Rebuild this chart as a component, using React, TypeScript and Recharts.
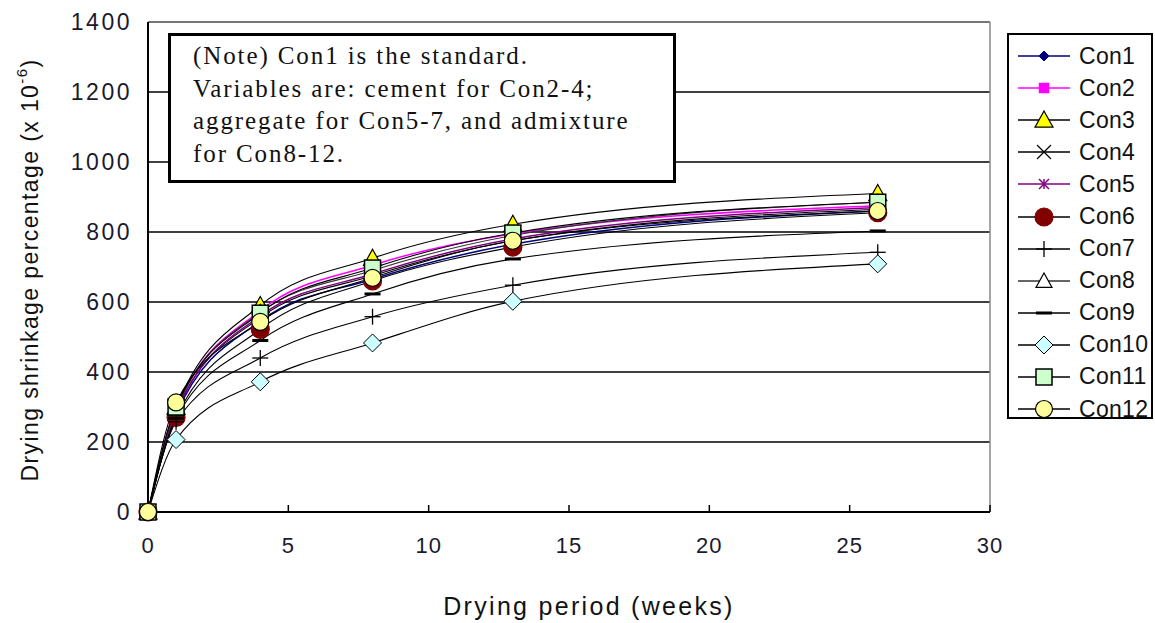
import React from 'react';
import {
  LineChart,
  Line,
  XAxis,
  YAxis,
  CartesianGrid,
  ReferenceLine,
} from 'recharts';

const weeks = [0, 1, 4, 8, 13, 26];

const con1 = [0, 280, 545, 665, 765, 860];
const con2 = [0, 295, 575, 705, 795, 875];
const con3 = [0, 300, 590, 725, 822, 910];
const con4 = [0, 290, 555, 675, 775, 865];
const con5 = [0, 285, 560, 680, 780, 870];
const con6 = [0, 270, 522, 660, 757, 855];
const con7 = [0, 258, 440, 558, 648, 742];
const con8 = [0, 295, 570, 690, 790, 885];
const con9 = [0, 268, 490, 623, 723, 803];
const con10 = [0, 207, 372, 483, 602, 709];
const con11 = [0, 300, 568, 697, 797, 885];
const con12 = [0, 313, 543, 669, 775, 860];

const xTicks = [0, 5, 10, 15, 20, 25, 30];
const yTicks = [0, 200, 400, 600, 800, 1000, 1200, 1400];

type Shape = 'diamond' | 'square' | 'triangle' | 'x' | 'star' | 'circle' | 'plus' | 'dash';

const series: { key: string; values: number[]; line: string; shape: Shape; fill: string; stroke: string; size: number }[] = [
  { key: 'Con1', values: con1, line: '#000080', shape: 'diamond', fill: '#000080', stroke: '#000080', size: 5 },
  { key: 'Con2', values: con2, line: '#ff00ff', shape: 'square', fill: '#ff00ff', stroke: '#ff00ff', size: 4.5 },
  { key: 'Con3', values: con3, line: '#000000', shape: 'triangle', fill: '#ffff00', stroke: '#000000', size: 9 },
  { key: 'Con4', values: con4, line: '#000000', shape: 'x', fill: 'none', stroke: '#000000', size: 7 },
  { key: 'Con5', values: con5, line: '#800080', shape: 'star', fill: 'none', stroke: '#800080', size: 5 },
  { key: 'Con6', values: con6, line: '#000000', shape: 'circle', fill: '#800000', stroke: '#800000', size: 9 },
  { key: 'Con7', values: con7, line: '#000000', shape: 'plus', fill: 'none', stroke: '#000000', size: 8 },
  { key: 'Con8', values: con8, line: '#333333', shape: 'triangle', fill: '#ffffff', stroke: '#000000', size: 8 },
  { key: 'Con9', values: con9, line: '#000000', shape: 'dash', fill: '#000000', stroke: '#000000', size: 8 },
  { key: 'Con10', values: con10, line: '#000000', shape: 'diamond', fill: '#ccffff', stroke: '#000000', size: 9 },
  { key: 'Con11', values: con11, line: '#000000', shape: 'square', fill: '#ccffcc', stroke: '#000000', size: 8 },
  { key: 'Con12', values: con12, line: '#000000', shape: 'circle', fill: '#ffff99', stroke: '#000000', size: 8.5 },
];

const data = weeks.map((w, i) => {
  const row: Record<string, number> = { week: w };
  series.forEach((s) => {
    row[s.key] = s.values[i];
  });
  return row;
});

const sans = "'Liberation Sans', Arial, sans-serif";

function Marker({ cx, cy, shape, fill, stroke, size }: {
  cx: number; cy: number; shape: Shape; fill: string; stroke: string; size: number;
}) {
  const r = size;
  switch (shape) {
    case 'diamond':
      return <polygon points={`${cx},${cy - r} ${cx + r},${cy} ${cx},${cy + r} ${cx - r},${cy}`} fill={fill} stroke={stroke} strokeWidth={1} />;
    case 'square':
      return <rect x={cx - r} y={cy - r} width={2 * r} height={2 * r} fill={fill} stroke={stroke} strokeWidth={1.5} />;
    case 'triangle':
      return <polygon points={`${cx},${cy - r} ${cx + r},${cy + r * 0.8} ${cx - r},${cy + r * 0.8}`} fill={fill} stroke={stroke} strokeWidth={1.2} />;
    case 'x':
      return (
        <g stroke={stroke} strokeWidth={1.2}>
          <line x1={cx - r} y1={cy - r} x2={cx + r} y2={cy + r} />
          <line x1={cx - r} y1={cy + r} x2={cx + r} y2={cy - r} />
        </g>
      );
    case 'star':
      return (
        <g stroke={stroke} strokeWidth={1.5}>
          <line x1={cx - r} y1={cy - r} x2={cx + r} y2={cy + r} />
          <line x1={cx - r} y1={cy + r} x2={cx + r} y2={cy - r} />
          <line x1={cx} y1={cy - r} x2={cx} y2={cy + r} />
        </g>
      );
    case 'circle':
      return <circle cx={cx} cy={cy} r={r} fill={fill} stroke={stroke} strokeWidth={1.2} />;
    case 'plus':
      return (
        <g stroke={stroke} strokeWidth={1.3}>
          <line x1={cx - r} y1={cy} x2={cx + r} y2={cy} />
          <line x1={cx} y1={cy - r} x2={cx} y2={cy + r} />
        </g>
      );
    case 'dash':
      return <rect x={cx - r} y={cy - 1.5} width={2 * r} height={3} fill={fill} />;
  }
  return null;
}

function YTitle({ viewBox }: any) {
  const x = 30;
  const y = viewBox ? viewBox.y + viewBox.height / 2 + 3 : 270;
  return (
    <text
      x={x}
      y={y}
      transform={`rotate(-90, ${x}, ${y})`}
      textAnchor="middle"
      dominantBaseline="central"
      fontSize={23}
      letterSpacing={1.4}
      fill="#111"
      fontFamily={sans}
    >
      Drying shrinkage percentage (x 10
      <tspan dy={-9} fontSize={15}>-6</tspan>
      <tspan dy={9}>)</tspan>
    </text>
  );
}

function LegendBox() {
  return (
    <div
      style={{
        position: 'absolute',
        left: 1007,
        top: 33,
        width: 146,
        height: 386,
        border: '2px solid #000',
        background: '#fff',
        boxSizing: 'border-box',
        paddingTop: 5,
      }}
    >
      {series.map((s) => (
        <div key={s.key} style={{ display: 'flex', alignItems: 'center', height: 32.1 }}>
          <svg width={56} height={24} style={{ marginLeft: 7 }}>
            <line x1={2} y1={12} x2={54} y2={12} stroke={s.line} strokeWidth={1.5} />
            <Marker cx={28} cy={12} shape={s.shape} fill={s.fill} stroke={s.stroke} size={s.size} />
          </svg>
          <span
            style={{
              marginLeft: 7,
              fontSize: 23,
              letterSpacing: 0.3,
              fontFamily: sans,
              color: '#111',
            }}
          >
            {s.key}
          </span>
        </div>
      ))}
    </div>
  );
}

export default function App() {
  return (
    <div style={{ position: 'absolute', left: 0, top: 0, width: 1155, height: 623, background: '#fff' }}>
      <LineChart
        width={1155}
        height={623}
        data={data}
        margin={{ top: 22, right: 165, bottom: 11, left: 68 }}
      >
        <CartesianGrid horizontal vertical={false} stroke="#000" strokeWidth={1.5} />
        <XAxis
          dataKey="week"
          type="number"
          domain={[0, 30]}
          ticks={xTicks}
          height={100}
          axisLine={{ stroke: '#000', strokeWidth: 2 }}
          tickLine={{ stroke: '#000', strokeWidth: 1.5 }}
          tickSize={-7}
          tickMargin={32}
          tick={{ fontSize: 22, fill: '#1a1a2e', fontFamily: sans, letterSpacing: 1 }}
          label={{
            value: 'Drying period (weeks)',
            position: 'insideBottom',
            offset: -3,
            dx: 20,
            fontSize: 25,
            letterSpacing: 2.3,
            fill: '#111',
            fontFamily: sans,
          }}
        />
        <YAxis
          type="number"
          domain={[0, 1400]}
          ticks={yTicks}
          width={80}
          axisLine={{ stroke: '#000', strokeWidth: 2 }}
          tickLine={false}
          tickMargin={10}
          tick={{ fontSize: 23, fill: '#1a1a2e', fontFamily: sans, letterSpacing: 2.5 }}
          label={<YTitle />}
        />
        <ReferenceLine y={1400} stroke="#888" strokeWidth={1.5} />
        <ReferenceLine x={30} stroke="#888" strokeWidth={1.5} />
        {series.map((s) => (
          <Line
            key={s.key}
            dataKey={s.key}
            type="monotone"
            stroke={s.line}
            strokeWidth={s.line === '#000000' || s.line === '#333333' ? 1.1 : 1.5}
            isAnimationActive={false}
            dot={(p: any) => (
              <Marker key={`${s.key}-${p.index}`} cx={p.cx} cy={p.cy} shape={s.shape} fill={s.fill} stroke={s.stroke} size={s.size} />
            )}
            activeDot={false}
          />
        ))}
      </LineChart>
      <div
        style={{
          position: 'absolute',
          left: 168,
          top: 33,
          width: 508,
          height: 150,
          border: '3px solid #000',
          background: '#fff',
          boxSizing: 'border-box',
          padding: '4px 0 0 22px',
          fontFamily: "'Liberation Serif', 'DejaVu Serif', serif",
          fontSize: 25,
          lineHeight: '32.5px',
          color: '#111',
          letterSpacing: 1.9,
          whiteSpace: 'nowrap',
        }}
      >
        (Note) Con1 is the standard.
        <br />
        Variables are: cement for Con2-4;
        <br />
        aggregate for Con5-7, and admixture
        <br />
        for Con8-12.
      </div>
      <LegendBox />
    </div>
  );
}
